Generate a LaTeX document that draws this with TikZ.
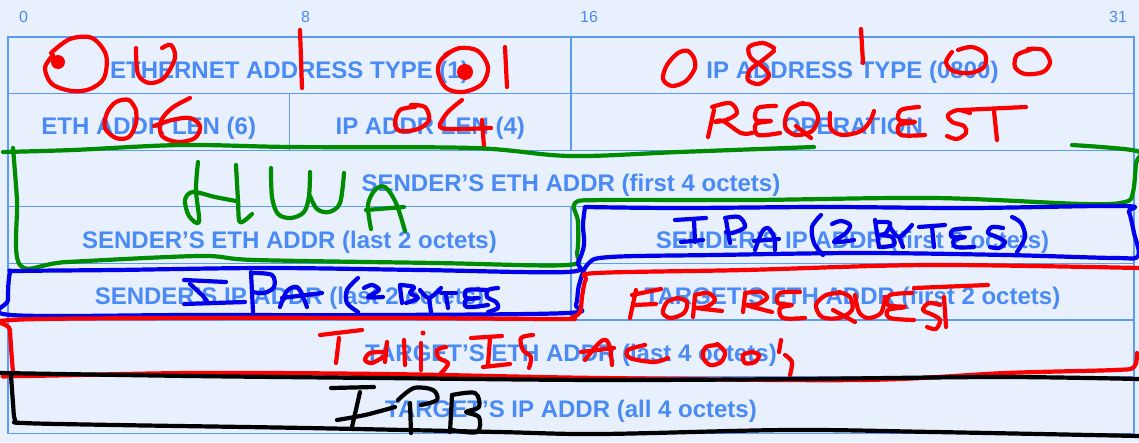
\documentclass[tikz,border=0pt]{standalone}
\usepackage{fontspec}
\setmainfont{Liberation Sans}
\definecolor{pagebg}{HTML}{E8F0FE}
\definecolor{gridblue}{HTML}{5B9AF5}
\definecolor{labelblue}{HTML}{4A8AF4}
\definecolor{inkred}{RGB}{250,0,0}
\definecolor{inkgreen}{RGB}{0,140,0}
\definecolor{inkblue}{RGB}{0,0,235}
\definecolor{inkblack}{RGB}{0,0,0}
\begin{document}
\begin{tikzpicture}[x=1pt,y=-1pt,
  field/.style={draw=gridblue, line width=1.3pt, minimum height=56.6pt, inner sep=0pt,
    text height=26pt, text depth=0pt,
    text=labelblue, font=\bfseries\fontsize{24}{28}\selectfont},
  half/.style={field, minimum width=563pt},
  quarter/.style={field, minimum width=281.5pt},
  whole/.style={field, minimum width=1126pt},
  bitnum/.style={text=labelblue, inner sep=0pt, anchor=west, font=\fontsize{16}{18}\selectfont},
  ink/.style={line width=4.2pt, line cap=round, line join=round},
  redink/.style={ink, draw=inkred},
  greenink/.style={ink, draw=inkgreen},
  blueink/.style={ink, draw=inkblue},
  blackink/.style={ink, draw=inkblack},
  sm/.style={smooth, tension=0.55}
]
% page
\fill[pagebg] (0,0) rectangle (1139,442);
\useasboundingbox (0,0) rectangle (1139,442);

% bit positions
\node[bitnum] (b0)  at (19,17)   {0};
\node[bitnum] (b8)  at (301,17)  {8};
\node[bitnum] (b16) at (580,17)  {16};
\node[bitnum] (b31) at (1109,17) {31};

% packet fields
\node[half]    (hwtype)  at (289.5,65.3)  {ETHERNET ADDRESS TYPE (1)};
\node[half]    (ptype)   at (852.5,65.3)  {IP ADDRESS TYPE (0800)};
\node[quarter] (hlen)    at (148.75,121.9) {ETH ADDR LEN (6)};
\node[quarter] (plen)    at (430.25,121.9) {IP ADDR LEN (4)};
\node[half]    (oper)    at (852.5,121.9) {OPERATION};
\node[whole]   (sha1)    at (571,178.5)   {SENDER'S ETH ADDR (first 4 octets)};
\node[half]    (sha2)    at (289.5,235.1) {SENDER'S ETH ADDR (last 2 octets)};
\node[half]    (spa1)    at (852.5,235.1) {SENDER'S IP ADDR (first 2 octets)};
\node[half]    (spa2)    at (289.5,291.7) {SENDER'S IP ADDR (last 2 octets)};
\node[half]    (tha1)    at (852.5,291.7) {TARGET'S ETH ADDR (first 2 octets)};
\node[whole]   (tha2)    at (571,348.3)   {TARGET'S ETH ADDR (last 4 octets)};
\node[whole]   (tpa)     at (571,404.9)   {TARGET'S IP ADDR (all 4 octets)};

% ---- red notes: hardware type 00|01
\draw[redink] plot[sm] coordinates {(51,53) (70,39) (92,38) (106,55) (104,78) (90,89) (72,91) (52,84) (45,68) (53,55)};
\fill[inkred] (58,62) circle[radius=7pt];
\draw[redink] plot[sm] coordinates {(136,48) (138,74) (149,83) (164,78) (175,58) (171,45) (162,48)};
\draw[redink] (300,30) -- (302,88);
\draw[redink] plot[sm] coordinates {(445,55) (460,48) (478,51) (488,67) (482,84) (463,92) (446,88) (438,72) (441,60) (452,51)};
\fill[inkred] (465,72) circle[radius=8pt];
\draw[redink] (505,47) -- (507,87);
% protocol type 08|00
\draw[redink] plot[sm] coordinates {(694,58) (688,51) (678,53) (667,65) (663,79) (672,86) (686,81) (695,68) (694,58)};
\draw[redink] plot[sm] coordinates {(774,48) (763,43) (749,47) (751,58) (763,67) (769,76) (759,84) (748,80) (750,70) (763,60) (774,51)};
\draw[redink] (861,29) -- (863,63);
\draw[redink] plot[sm] coordinates {(958,50) (972,47) (985,54) (984,67) (970,73) (953,71) (946,62) (952,52)};
\draw[redink] plot[sm] coordinates {(1030,50) (1017,55) (1015,67) (1025,74) (1043,72) (1050,62) (1043,50) (1028,49)};
% lengths 06 / 04
\draw[redink] plot[sm] coordinates {(136,110) (129,100) (116,102) (107,113) (105,128) (116,138) (129,137) (136,123) (136,110)};
\draw[redink] plot[sm] coordinates {(190,98) (172,108) (161,121) (162,136) (178,142) (195,138) (200,126) (190,118) (172,120) (154,126)};
\draw[redink] plot[sm] coordinates {(415,107) (400,110) (395,123) (400,131) (418,129) (429,120) (425,107) (411,105)};
\draw[redink] plot[sm] coordinates {(462,100) (447,113) (440,127) (458,129) (491,128)};
\draw[redink] (482,120) -- (484,147);
% REQUEST
\draw[redink] (714,110) -- (708,137);
\draw[redink] plot[sm] coordinates {(712,107) (730,103) (737,113) (726,120) (715,122) (723,121) (741,133) (752,133)};
\draw[redink] plot[sm] coordinates {(776,106) (758,108) (756,120) (771,121) (756,124) (758,135) (780,133)};
\draw[redink] plot[sm] coordinates {(803,103) (789,110) (785,126) (795,135) (812,131) (818,117) (811,105) (799,104)};
\draw[redink] (796,126) -- (811,138);
\draw[redink] plot[sm] coordinates {(830,113) (831,129) (843,135) (861,131) (870,121) (874,111)};
\draw[redink] plot[sm] coordinates {(919,107) (901,110) (899,120) (915,122) (899,125) (901,135) (925,135)};
\draw[redink] plot[sm] coordinates {(970,113) (958,110) (948,115) (952,122) (964,126) (966,133) (957,139) (947,136)};
\draw[redink] (962,110) -- (1026,107);
\draw[redink] (994,111) -- (997,140);

% ---- green: sender hardware address
\draw[greenink] plot[sm] coordinates {(814,147) (679,152) (570,156) (473,148) (291,147) (182,145) (73,150) (3,152)};
\draw[greenink] plot[sm] coordinates {(13,148) (17,200) (20,265) (67,262) (200,256) (255,260) (436,263) (567,265) (577,253) (578,222) (575,203) (606,200) (752,200) (934,198) (1083,204) (1125,202) (1133,192) (1136,163) (1137,151) (1072,145)};
\draw[greenink] plot[sm] coordinates {(198,162) (196,190) (199,222) (189,216) (185,200) (193,192) (215,197) (236,201)};
\draw[greenink] plot[sm] coordinates {(236,165) (238,200) (240,222) (252,214)};
\draw[greenink] plot[sm] coordinates {(271,168) (272,197) (278,214) (291,218) (304,212) (309,196) (310,172)};
\draw[greenink] plot[sm] coordinates {(310,196) (317,209) (329,212) (340,203) (344,173)};
\draw[greenink] plot[sm] coordinates {(371,229) (368,205) (375,190) (385,187) (396,203) (405,231)};
\draw[greenink] (366,210) -- (404,207);

% ---- blue: sender protocol address
\draw[blueink] plot[sm] coordinates {(585,207) (679,208) (825,207) (970,208) (1123,206) (1129,212) (1134,233) (1138,256) (1115,258) (1006,255) (861,253) (715,255) (610,257) (588,264) (579,285) (576,305) (567,313) (383,315) (192,315) (11,315) (8,300) (10,273) (19,271) (115,270) (268,268) (421,270) (567,272) (578,262) (584,245) (583,225) (585,207)};
% IPA (2BYTES) upper
\draw[blueink] (675,220) -- (706,218);
\draw[blueink] (694,220) -- (695,242);
\draw[blueink] (681,242) -- (703,240);
\draw[blueink] (726,220) -- (730,243);
\draw[blueink] plot[sm] coordinates {(725,218) (739,217) (745,227) (732,233) (726,232)};
\draw[blueink] plot[sm] coordinates {(755,250) (762,232) (768,228) (774,237) (775,250)};
\draw[blueink] (754,241) -- (779,239);
\draw[blueink] plot[sm] coordinates {(821,215) (812,227) (814,243) (823,255)};
\draw[blueink] plot[sm] coordinates {(832,224) (841,221) (850,225) (846,233) (834,242) (854,240)};
\draw[blueink] (875,220) -- (879,247);
\draw[blueink] plot[sm] coordinates {(877,222) (890,223) (886,233) (881,235) (892,237) (894,245) (881,247)};
\draw[blueink] plot[sm] coordinates {(890,227) (899,237) (912,225)};
\draw[blueink] (899,237) -- (903,247);
\draw[blueink] (919,227) -- (945,225);
\draw[blueink] (932,227) -- (934,247);
\draw[blueink] plot[sm] coordinates {(970,228) (953,230) (952,237) (965,237) (954,240) (956,247) (974,247)};
\draw[blueink] plot[sm] coordinates {(1003,228) (992,227) (988,233) (997,237) (1005,242) (999,248) (990,247)};
\draw[blueink] plot[sm] coordinates {(1012,217) (1021,223) (1025,237) (1017,252)};
% IPA (2BYTES lower
\draw[blueink] (184,280) -- (226,282);
\draw[blueink] plot[sm] coordinates {(190,284) (203,296) (208,303)};
\draw[blueink] (184,304) -- (245,302);
\draw[blueink] (251,272) -- (253,312);
\draw[blueink] plot[sm] coordinates {(253,273) (272,275) (274,287) (264,293) (253,292)};
\draw[blueink] plot[sm] coordinates {(280,307) (287,291) (297,287) (303,297) (307,307)};
\draw[blueink] (282,298) -- (322,293);
\draw[blueink] plot[sm] coordinates {(358,278) (347,290) (347,303) (358,312)};
\draw[blueink] plot[sm] coordinates {(364,288) (372,285) (379,290) (368,297) (383,297)};
\draw[blueink] (400,287) -- (402,303);
\draw[blueink] plot[sm] coordinates {(400,285) (414,287) (410,293) (418,298) (406,303)};
\draw[blueink] plot[sm] coordinates {(420,290) (429,298) (441,288)};
\draw[blueink] (429,298) -- (431,312);
\draw[blueink] (441,293) -- (456,293);
\draw[blueink] (446,295) -- (448,308);
\draw[blueink] plot[sm] coordinates {(487,290) (467,290) (466,298) (479,298) (466,300) (467,307) (488,305)};
\draw[blueink] plot[sm] coordinates {(498,288) (488,290) (487,297) (496,302) (498,308) (488,312)};

% ---- red: target hardware address
\draw[redink] plot[sm] coordinates {(1139,268) (929,265) (745,270) (597,273) (586,279) (582,297) (580,312) (571,318) (560,319) (383,318) (192,318) (11,320) (10,330) (13,372) (15,376) (192,373) (383,374) (600,378) (861,380) (1006,373) (1115,370) (1134,367) (1137,353)};
% FOR REQUEST
\draw[redink] (636,290) -- (630,318);
\draw[redink] (632,295) -- (661,289);
\draw[redink] (634,305) -- (656,304);
\draw[redink] plot[sm] coordinates {(678,298) (667,302) (663,313) (671,318) (684,313) (687,302) (678,298)};
\draw[redink] (695,295) -- (693,317);
\draw[redink] plot[sm] coordinates {(695,295) (708,293) (715,300) (706,307) (697,308) (722,311)};
\draw[redink] (745,295) -- (743,312);
\draw[redink] plot[sm] coordinates {(745,293) (761,292) (767,298) (756,305) (746,305) (772,312)};
\draw[redink] plot[sm] coordinates {(800,292) (780,293) (778,303) (792,305) (780,308) (783,318) (805,318)};
\draw[redink] plot[sm] coordinates {(840,293) (826,295) (816,305) (822,317) (839,318) (852,310) (850,297) (839,292)};
\draw[redink] (833,310) -- (855,322);
\draw[redink] plot[sm] coordinates {(855,295) (859,312) (868,318) (881,313) (885,297)};
\draw[redink] plot[sm] coordinates {(912,293) (890,295) (888,305) (905,307) (888,310) (890,318) (914,320)};
\draw[redink] plot[sm] coordinates {(940,305) (929,303) (923,310) (933,315) (940,320) (936,329) (927,327)};
\draw[redink] (914,288) -- (988,285);
\draw[redink] (944,297) -- (946,327);
% THIS IS A 00's
\draw[redink] (320,335) -- (362,330);
\draw[redink] (339,338) -- (336,363);
\draw[redink] (387,342) -- (385,362);
\draw[redink] plot[sm] coordinates {(383,352) (370,353) (365,360) (372,363) (383,357)};
\draw[redink] (404,340) -- (405,365);
\fill[inkred] (423,333) circle[radius=2.5pt];
\draw[redink] (421,343) -- (421,370);
\draw[redink] plot[sm] coordinates {(446,347) (437,350) (439,358) (448,363) (444,370) (441,373)};
\draw[redink] (471,338) -- (502,336);
\draw[redink] (490,338) -- (488,365);
\draw[redink] (483,367) -- (510,364);
\draw[redink] plot[sm] coordinates {(533,335) (521,338) (523,350) (531,357) (529,368)};
\draw[redink] plot[sm] coordinates {(585,360) (599,343) (606,340) (610,348) (612,365)};
\draw[redink] (581,352) -- (614,348);
\draw[redink] plot[sm] coordinates {(645,345) (628,350) (630,358) (654,362) (668,358)};
\draw[redink] plot[sm] coordinates {(719,345) (706,347) (703,357) (710,365) (721,362) (725,352) (717,344)};
\draw[redink] plot[sm] coordinates {(752,352) (743,355) (745,363) (755,362) (759,355) (752,352)};
\draw[redink] (781,340) -- (779,352);
\draw[redink] plot[sm] coordinates {(785,355) (792,362) (790,375)};

% ---- black: target protocol address
\draw[blackink] plot[sm] coordinates {(0,373) (190,376) (380,378) (600,380) (800,379) (1000,377) (1139,379)};
\draw[blackink] plot[sm] coordinates {(11,375) (13,403) (15,420) (23,423) (115,425) (306,428) (498,432) (600,434) (788,430) (934,432) (1139,436)};
\draw[blackink] (331,388) -- (374,387);
\draw[blackink] (360,392) -- (352,427);
\draw[blackink] plot[sm] coordinates {(337,420) (365,415) (395,407)};
\draw[blackink] plot[sm] coordinates {(398,400) (414,388) (433,390) (437,400) (421,405)};
\draw[blackink] (410,403) -- (411,433);
\draw[blackink] (452,395) -- (450,432);
\draw[blackink] plot[sm] coordinates {(452,395) (475,393) (479,407) (466,412) (479,417) (477,432) (452,430)};
\end{tikzpicture}
\end{document}
